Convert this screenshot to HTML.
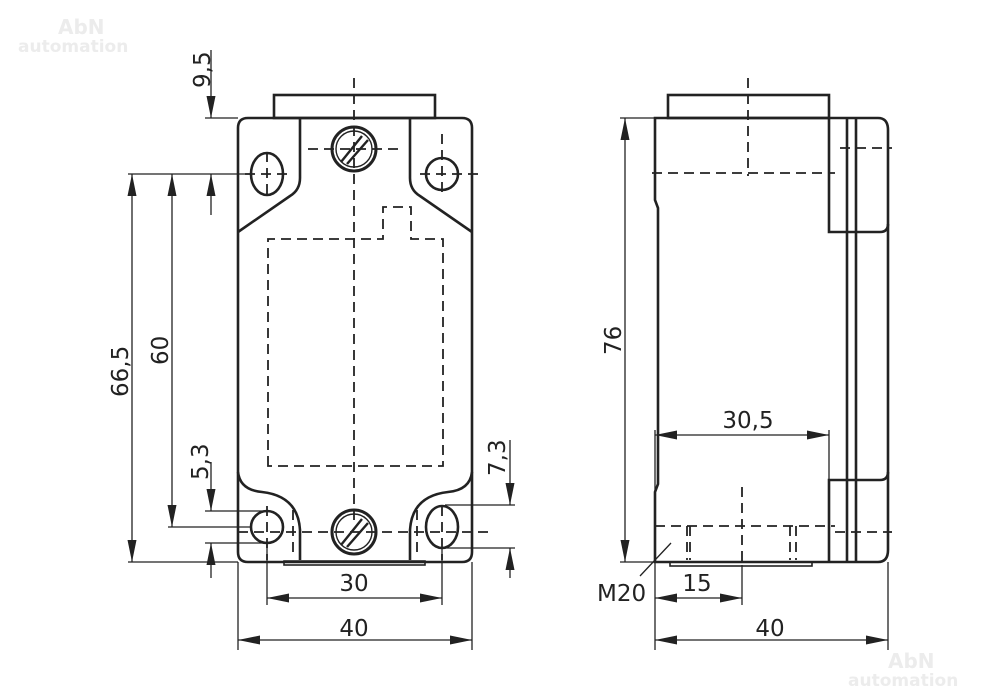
<!DOCTYPE html>
<html><head><meta charset="utf-8"><style>
html,body{margin:0;padding:0;background:#fff}
svg{display:block}
text{font-family:"DejaVu Sans","Liberation Sans",sans-serif;fill:#222}
</style></head><body>
<svg width="1000" height="697" viewBox="0 0 1000 697" xmlns="http://www.w3.org/2000/svg">
<defs>
<marker id="a" viewBox="0 0 22 9" refX="22" refY="4.5" markerWidth="22" markerHeight="9" markerUnits="userSpaceOnUse" orient="auto-start-reverse"><path d="M0,0 L22,4.5 L0,9 z" fill="#222"/></marker>
</defs>
<text x="58" y="34" font-size="20" font-weight="bold" style="fill:#ececec">AbN</text>
<text x="18" y="52" font-size="17" font-weight="bold" style="fill:#ececec">automation</text>
<text x="888" y="668" font-size="20" font-weight="bold" style="fill:#ececec">AbN</text>
<text x="848" y="686" font-size="17" font-weight="bold" style="fill:#ececec">automation</text>

<g fill="none" stroke="#222" stroke-width="2.6">
<rect x="274" y="95" width="161" height="23"/>
<path d="M248,118 H462 Q472,118 472,128 V552 Q472,562 462,562 H248 Q238,562 238,552 V128 Q238,118 248,118 Z"/>
<path d="M300,118 V178 Q300,190 290,196 L238,232"/>
<path d="M410,118 V178 Q410,190 420,196 L472,232"/>
<path d="M238,472 Q240,490 262,492 Q298,496 300,530 V560"/>
<path d="M472,472 Q470,490 448,492 Q412,496 410,530 V560"/>
<rect x="284" y="561" width="141" height="4" stroke-width="1.6"/>
<circle cx="354" cy="149" r="22" stroke-width="3"/>
<circle cx="354" cy="149" r="18" stroke-width="1.4"/>
<circle cx="354" cy="532" r="22" stroke-width="3"/>
<circle cx="354" cy="532" r="18" stroke-width="1.4"/>
<ellipse cx="267" cy="174" rx="16" ry="21"/>
<circle cx="442" cy="174" r="16"/>
<circle cx="267" cy="527" r="16"/>
<ellipse cx="442" cy="527" rx="16" ry="21"/>
<rect x="668" y="95" width="161" height="23"/>
<path d="M655,118 H878 Q888,118 888,130 V550 Q888,562 878,562 H655 V492 L658,484 V208 L655,200 Z"/>
<path d="M829,118 V232 H880 Q888,232 888,224"/>
<path d="M829,562 V480 H880 Q888,480 888,472"/>
<line x1="847" y1="118" x2="847" y2="562"/>
<line x1="856" y1="118" x2="856" y2="562"/>
<rect x="670" y="562" width="142" height="4" stroke-width="1.6"/>
</g>
<g stroke="#222" stroke-width="2.4">
<line x1="341" y1="162" x2="362" y2="136"/><line x1="347" y1="164" x2="368" y2="140"/>
<line x1="341" y1="545" x2="362" y2="519"/><line x1="347" y1="547" x2="368" y2="523"/>
</g>
<g fill="none" stroke="#222" stroke-width="1.8" stroke-dasharray="10,6">
<path d="M268,466 V239 H383 V207 H411 V239 H443 V466 Z"/>
<line x1="354" y1="78" x2="354" y2="520"/>
<line x1="308" y1="149" x2="402" y2="149"/>
<line x1="267" y1="152" x2="267" y2="200"/><line x1="245" y1="174" x2="290" y2="174"/>
<line x1="442" y1="134" x2="442" y2="196"/><line x1="420" y1="174" x2="478" y2="174"/>
<line x1="238" y1="532" x2="490" y2="532"/>
<line x1="267" y1="506" x2="267" y2="560"/>
<line x1="442" y1="506" x2="442" y2="560"/>
<line x1="293" y1="510" x2="293" y2="558"/><line x1="417" y1="510" x2="417" y2="558"/>
<line x1="748" y1="78" x2="748" y2="176"/>
<line x1="652" y1="173" x2="835" y2="173"/>
<line x1="840" y1="148" x2="892" y2="148"/>
<line x1="742" y1="487" x2="742" y2="565"/>
<line x1="655" y1="526" x2="835" y2="526"/>
<line x1="835" y1="532" x2="892" y2="532"/>
<line x1="687" y1="526" x2="687" y2="560"/><line x1="690" y1="526" x2="690" y2="560"/>
<line x1="790" y1="526" x2="790" y2="560"/><line x1="796" y1="526" x2="796" y2="560"/>
</g>
<g fill="none" stroke="#222" stroke-width="1.3">
<line x1="205" y1="118" x2="238" y2="118"/>
<line x1="128" y1="174" x2="250" y2="174"/>
<line x1="128" y1="562" x2="238" y2="562"/>
<line x1="168" y1="527" x2="250" y2="527"/>
<line x1="205" y1="511" x2="265" y2="511"/>
<line x1="205" y1="543" x2="265" y2="543"/>
<line x1="445" y1="505" x2="515" y2="505"/>
<line x1="445" y1="548" x2="515" y2="548"/>
<line x1="238" y1="562" x2="238" y2="650"/><line x1="472" y1="562" x2="472" y2="650"/>
<line x1="267" y1="545" x2="267" y2="605"/><line x1="442" y1="548" x2="442" y2="605"/>
<line x1="211" y1="50" x2="211" y2="118" marker-end="url(#a)"/>
<line x1="211" y1="215" x2="211" y2="174" marker-end="url(#a)"/>
<line x1="132" y1="174" x2="132" y2="562" marker-start="url(#a)" marker-end="url(#a)"/>
<line x1="172" y1="174" x2="172" y2="527" marker-start="url(#a)" marker-end="url(#a)"/>
<line x1="211" y1="462" x2="211" y2="511" marker-end="url(#a)"/>
<line x1="211" y1="578" x2="211" y2="543" marker-end="url(#a)"/>
<line x1="510" y1="440" x2="510" y2="505" marker-end="url(#a)"/>
<line x1="510" y1="578" x2="510" y2="548" marker-end="url(#a)"/>
<line x1="267" y1="598" x2="442" y2="598" marker-start="url(#a)" marker-end="url(#a)"/>
<line x1="238" y1="640" x2="472" y2="640" marker-start="url(#a)" marker-end="url(#a)"/>
<line x1="620" y1="118" x2="655" y2="118"/>
<line x1="620" y1="562" x2="655" y2="562"/>
<line x1="625" y1="118" x2="625" y2="562" marker-start="url(#a)" marker-end="url(#a)"/>
<line x1="655" y1="430" x2="655" y2="650"/>
<line x1="829" y1="430" x2="829" y2="480"/>
<line x1="888" y1="562" x2="888" y2="650"/>
<line x1="742" y1="565" x2="742" y2="605"/>
<line x1="655" y1="435" x2="829" y2="435" marker-start="url(#a)" marker-end="url(#a)"/>
<line x1="655" y1="598" x2="742" y2="598" marker-start="url(#a)" marker-end="url(#a)"/>
<line x1="655" y1="640" x2="888" y2="640" marker-start="url(#a)" marker-end="url(#a)"/>
<line x1="671" y1="543" x2="640" y2="576"/>
</g>
<g font-size="23">
<text transform="translate(210,88) rotate(-90)">9,5</text>
<text transform="translate(128,397) rotate(-90)">66,5</text>
<text transform="translate(168,365) rotate(-90)">60</text>
<text transform="translate(208,480) rotate(-90)">5,3</text>
<text transform="translate(505,476) rotate(-90)">7,3</text>
<text x="354" y="591" text-anchor="middle">30</text>
<text x="354" y="636" text-anchor="middle">40</text>
<text transform="translate(621,355) rotate(-90)">76</text>
<text x="748" y="428" text-anchor="middle">30,5</text>
<text x="697" y="591" text-anchor="middle">15</text>
<text x="770" y="636" text-anchor="middle">40</text>
<text x="597" y="601">M20</text>
</g>
</svg>
</body></html>
